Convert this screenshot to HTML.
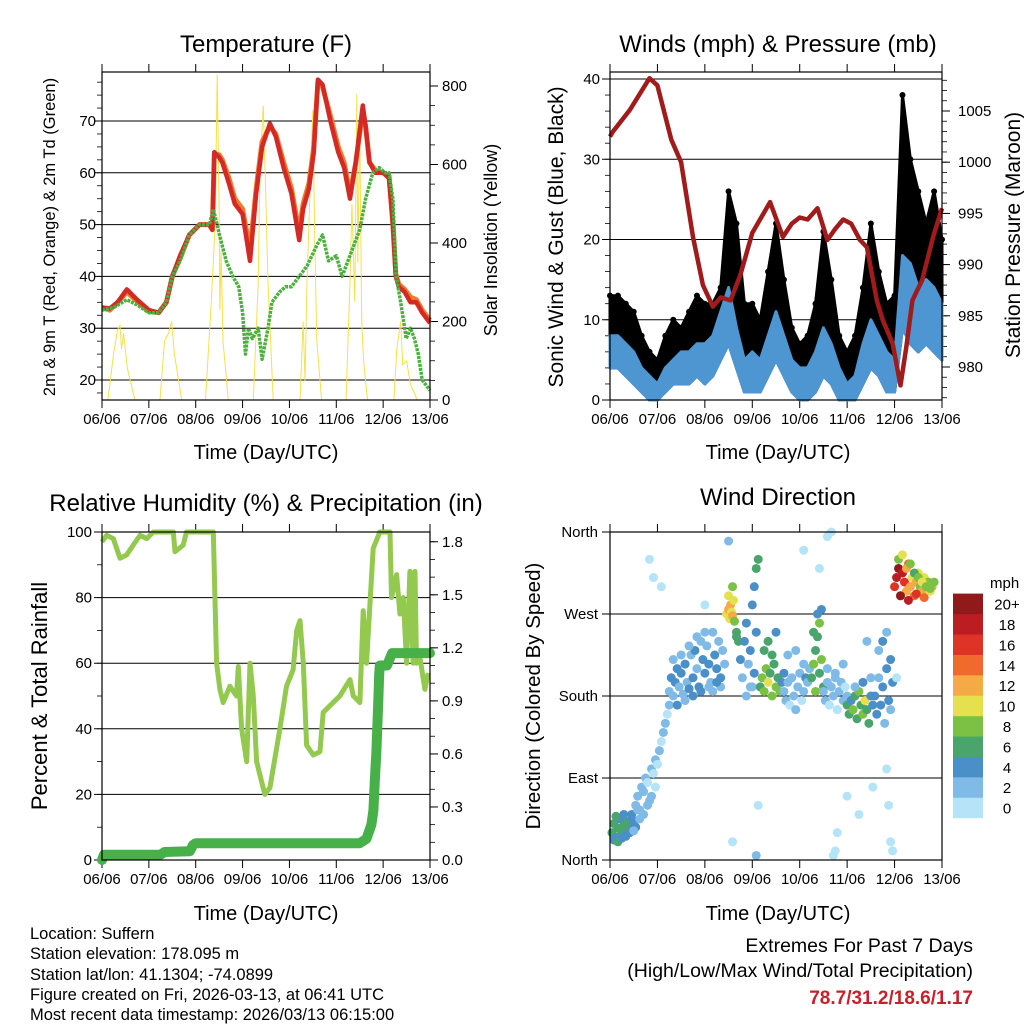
<!DOCTYPE html>
<html><head><meta charset="utf-8"><style>
html,body{margin:0;padding:0;background:#fff;}
svg{display:block;font-family:"Liberation Sans",Arial,sans-serif;}
</style></head><body>
<svg id="chart" width="1024" height="1024" viewBox="0 0 1024 1024" xmlns="http://www.w3.org/2000/svg">
<rect width="1024" height="1024" fill="#fff"/>
<g id="layer"></g>
<text x="266" y="52" font-size="24" text-anchor="middle">Temperature (F)</text>
<text x="778" y="52" font-size="24" text-anchor="middle">Winds (mph) &amp; Pressure (mb)</text>
<text x="266" y="511" font-size="24" text-anchor="middle">Relative Humidity (%) &amp; Precipitation (in)</text>
<text x="778" y="505" font-size="24" text-anchor="middle">Wind Direction</text>
<text x="266" y="459" font-size="20" text-anchor="middle">Time (Day/UTC)</text>
<text x="778" y="459" font-size="20" text-anchor="middle">Time (Day/UTC)</text>
<text x="266" y="920" font-size="20" text-anchor="middle">Time (Day/UTC)</text>
<text x="778" y="920" font-size="20" text-anchor="middle">Time (Day/UTC)</text>
<text transform="translate(55,237) rotate(-90)" font-size="16.5" text-anchor="middle">2m &amp; 9m T (Red, Orange) &amp; 2m Td (Green)</text>
<text transform="translate(497,240) rotate(-90)" font-size="18" text-anchor="middle">Solar Insolation (Yellow)</text>
<text transform="translate(563,237) rotate(-90)" font-size="21" text-anchor="middle">Sonic Wind &amp; Gust (Blue, Black)</text>
<text transform="translate(1020,235) rotate(-90)" font-size="21" text-anchor="middle">Station Pressure (Maroon)</text>
<text transform="translate(47,696) rotate(-90)" font-size="22" text-anchor="middle">Percent &amp; Total Rainfall</text>
<text transform="translate(540,696) rotate(-90)" font-size="20.5" text-anchor="middle">Direction (Colored By Speed)</text>
<g font-size="16.5">
<text x="30" y="939">Location: Suffern</text>
<text x="30" y="959">Station elevation: 178.095 m</text>
<text x="30" y="980">Station lat/lon: 41.1304; -74.0899</text>
<text x="30" y="1000">Figure created on Fri, 2026-03-13, at 06:41 UTC</text>
<text x="30" y="1020">Most recent data timestamp: 2026/03/13 06:15:00</text>
</g>
<text x="973" y="952" font-size="19.5" text-anchor="end">Extremes For Past 7 Days</text>
<text x="973" y="977" font-size="19.5" text-anchor="end">(High/Low/Max Wind/Total Precipitation)</text>
<text x="973" y="1004" font-size="19" font-weight="bold" fill="#c8202a" text-anchor="end">78.7/31.2/18.6/1.17</text>
</svg>
<script>
// ---------- DATA ----------
const dayLabels = ["06/06","07/06","08/06","09/06","10/06","11/06","12/06","13/06"];
const tempTicks = [20,30,40,50,60,70];
const solarTicks = [0,200,400,600,800];
const windTicks = [0,10,20,30,40];
const pressTicks = [980,985,990,995,1000,1005];
const rhTicks = [0,20,40,60,80,100];
const precipTicks = ["0.0","0.3","0.6","0.9","1.2","1.5","1.8"];
const dirTickLabels = ["North","East","South","West","North"];
const speedLabels = ["0","2","4","6","8","10","12","14","16","18","20+"];

const tempHours = [0,4,8,12.7,18,24,29,33,36,40,44.7,50,55,56.5,57.5,60,61.6,65,68,72,75.8,79,82,86,89,93,97,101,103,106,108.5,110.6,113,117,121,124,127,130,133.6,135,137,140,144,147,149,150.5,152,155,158,161,164,168];
const tempRed = [34,33.8,35,37.5,35.5,33.5,33,35,40,44,48,50,50,49,64,63,62,58,54,52,43,56,65,69.5,67,61,56,47,53,57,64,78,77,70,64,61,55,62,73,69,62,60,60,59,50,40,38,37,35,35,33,31];
const tempOrange = [34,33.5,35,37,35.2,33.2,33,35,40,43.5,48,50,50,49,63.5,63.5,62.5,59,55,53,45,57,66,69,67.5,62,57,48.5,54,58,65,77.5,76.5,71,65,62,56,62,72,69,62,60.5,60,59.5,50,40.5,38.5,37.5,36,35.5,33.5,31.5];
const dewHours = [0,6,12.7,18,24,29,33,36,40,44.7,50,55,57,60.2,63.6,67,70,72,73.5,75,77,80,82,85,87,91,94,97,101,105,110,113,116,120,123,128,132,135,138.7,142,145,147,149,150.7,153,155.8,158,160,162,164,168];
const dewGreen = [33.5,34,35.5,34.5,33,33,35,40,43,48,50,50,53,48,43,40,38,33,25,30,28,30,24,30,35,37,38,38,40,42,46,48,43,44,40,45,49,55,60,61,60,60,55,40,35,28,30,28,25,20,18];
const solarHours = [3,6,8,9.2,10,11,13,16.9, 29.7,32,34,35.7,37,40.8, 53,56,58,59,60,60.4,61,62,64.7, 77.5,80,81,82.6,84,85,87.7, 101.4,103,104,105,107,108,109,110,112.5, 125,127,128,129.5,130.5,131,132,133,134,136, 149.5,151,153,154,156,158,161.5];
const solarVals = [0,120,180,190,130,170,80,0, 0,150,170,200,120,0, 0,250,450,830,500,230,380,150,0, 0,300,600,750,500,300,0, 0,200,50,300,600,740,400,150,0, 0,300,500,250,780,350,700,200,100,0, 0,130,200,90,100,40,0];

const gustHours = [0,4,8,12,16,20,24,28,32,36,40,44,48,52,56,60,64,68,72,76,80,84,88,92,96,100,104,108,112,116,120,124,128,132,136,140,144,148,152,156,160,164,168];
const gustHi = [13,13,12,11,8,6,5,8,10,9,11,13,12,12,14,26,22,12,12,10,16,22,15,9,7,8,12,21,15,8,6,8,14,22,16,12,13,38,30,26,22,26,20];
const windHi = [8,8,7,6,4,3,2,4,5,6,6,7,7,8,11,14,9,5,6,5,8,11,8,5,4,4,6,9,7,4,2,3,7,10,8,6,5,18,17,14,15,14,12];
const windLo = [4,4,3,2,1,0,0,1,2,2,2,3,2,3,5,7,4,1,1,1,3,5,3,1,0,0,1,3,2,0,0,0,2,4,3,1,1,9,7,6,7,6,5];
const pressHours = [0,1.5,10,20,24,31,36,42,47,52,56,61,66,72,81,87.5,92,96,100,105,110,114,118,122,126.5,130,135,138,143,147,150,153,158,163.5,168];
const pressVals = [1002.5,1003,1005.1,1008.2,1007.5,1002.2,1000,992.7,988,985.9,986.8,986.5,989,993.1,996.1,992.7,994,994.6,994.4,995.5,992.4,993.5,994.4,994,992.4,991.7,986.5,984.6,982.3,978.2,982,986.5,988.5,992.7,995.5];

const rhHours = [0,2.4,5.8,9.2,12.6,16,19.5,22.9,26.3,36.5,37.4,39.5,41.6,43.3,57,58.7,60.4,62.1,65.5,68.9,69.8,71.5,74.1,75.8,77.5,79.2,83.4,86,91.1,94.5,97.9,99.7,101.4,103.1,104.8,108.2,111.6,113.3,116.7,121.8,127,128.7,132.1,133.8,135.5,138.9,142.3,147.5,148.3,150.9,152.6,154.3,156,157.7,159.4,160.3,161.1,162.8,165.4,167.1];
const rhVals = [97,99,98,92,93,96,99,98,100,100,94,95,96,100,100,60,52,48,53,50,59,40,30,60,50,30,20,22,40,53,58,70,73,60,35,32,33,45,47,50,55,50,48,76,60,95,100,100,80,87,75,80,60,88,60,88,60,62,52,57];
const precipHours = [0,1,30,32,45,46.6,48,132,135.5,138,139,139.5,140,140.5,141,141.5,142,142.3,146,148.6,168];
const precipVals = [0,0.03,0.03,0.045,0.05,0.085,0.095,0.095,0.12,0.2,0.28,0.4,0.5,0.6,0.75,0.9,1.05,1.1,1.1,1.17,1.17];

const dirHours = [1,2,3,4,5,6,7,8,9,10,11,12,13,14,2,4,6,8,10,12,3,7,11,
13,14,15,16,17,18,19,20,21,22,23,24,25,26,27,28,29,30,15,17,19,21,23,
30,31,32,33,34,35,36,37,38,39,40,41,42,43,44,45,46,47,48,49,50,51,52,53,54,55,56,57,58,32,36,40,44,48,52,56,34,38,42,46,50,54,
59,60,60.5,61,61.5,62,62.5,63,64,65,60,62,64,
66,67,68,69,70,71,72,73,74,72,73,74,75,69,71,
76,77,78,79,80,81,82,83,84,85,86,87,88,78,80,82,84,
88,89,90,91,92,93,94,95,96,97,98,99,100,101,90,94,98,
102,103,104,105,106,107,108,103,105,107,104,106,
108,109,110,111,112,113,114,115,116,117,118,119,120,110,114,118,
120,121,122,123,124,125,126,127,128,129,130,131,132,133,124,128,132,
134,135,136,137,138,139,140,141,142,143,136,138,140,142,
144,145,146,147,148,149,150,151,152,153,154,155,156,157,158,159,160,161,162,163,164,146,148,150,152,154,156,158,160,162,147,151,155,159,
20,22,26,48,60,62,74,98,106,110,112,113,114,115,130,133,140,141,142,143,145,75,120,126];
const dirDeg = [30,40,25,35,45,30,38,28,42,33,50,40,36,55,22,20,24,26,30,32,48,50,45,
60,70,55,80,75,90,85,65,100,95,110,105,120,130,140,150,160,170,45,50,60,70,80,
185,200,180,195,210,190,205,182,215,195,188,225,200,230,210,190,240,220,205,235,215,195,250,225,210,240,200,230,215,220,225,235,245,250,185,190,170,175,180,185,190,195,
270,275,265,280,272,268,285,262,250,240,290,300,245,
220,200,240,260,215,230,190,205,250,280,300,320,330,180,190,
190,200,185,210,195,205,180,215,190,200,185,195,205,230,240,225,250,
185,175,195,170,200,180,165,190,205,175,185,200,195,210,225,230,215,
200,215,230,245,260,220,190,250,270,275,185,205,
185,175,195,170,190,180,200,165,185,195,175,190,180,210,205,215,
170,160,175,165,180,155,185,170,160,175,165,150,180,170,190,195,200,
180,160,200,170,190,150,210,175,165,195,230,240,250,220,
300,310,320,290,315,305,295,325,300,310,290,305,315,300,295,310,300,305,295,300,305,330,335,320,325,315,310,305,300,298,290,285,292,288,
330,310,300,280,350,20,5,340,320,355,360,5,10,30,240,80,100,60,20,10,200,60,70,50];
const dirSpeed = [6,7,5,6,4,7,6,5,7,6,4,5,4,3,4,6,4,5,4,3,7,5,4,
2,3,2,2,3,2,1,2,2,1,2,1,2,1,2,2,1,2,3,2,3,2,1,
3,4,3,5,4,3,5,2,4,3,5,3,4,5,3,4,3,5,4,3,4,2,3,5,4,3,4,3,2,2,2,2,3,2,2,3,4,3,4,5,3,4,
11,12,10,13,10,12,11,9,7,6,10,8,7,
4,3,4,5,3,4,3,4,5,4,5,6,7,3,2,
7,8,9,8,10,7,8,6,9,7,8,5,4,6,7,6,5,
3,2,3,1,2,3,2,3,2,1,3,4,2,3,2,3,2,
7,8,7,6,8,9,7,6,5,4,8,7,
2,3,2,1,2,3,2,1,2,3,2,1,2,3,2,3,
6,7,5,8,6,7,9,6,8,10,7,6,5,4,3,4,3,
4,5,3,4,5,3,4,5,3,4,3,4,3,4,
16,18,20,14,19,17,12,15,13,11,14,12,10,9,13,11,12,8,10,12,9,8,10,12,9,7,8,10,9,8,20,18,17,15,
0,0,1,1,2,1,3,1,0,0,0,0,0,0,2,1,1,0,0,0,0,0,1,0];
const speedColors = ["#b5e3f7","#7fbbe6","#4a8fc8","#4aa56c","#7bc143","#e6e04e","#f6aa45","#ef6a2c","#dd3427","#bc1d22","#901a1a"];

// ---------- SCALES ----------
const NS = "http://www.w3.org/2000/svg";
const layer = document.getElementById("layer");
function mk(tag, attrs, parent){const e=document.createElementNS(NS,tag);for(const k in attrs)e.setAttribute(k,attrs[k]);(parent||layer).appendChild(e);return e;}
const P1={x0:102,x1:430,y0:72,y1:400}, P2={x0:610,x1:942,y0:72,y1:400}, P3={x0:102,x1:430,y0:532,y1:860}, P4={x0:610,x1:942,y0:532,y1:860};
function xS(P,h){return P.x0+(P.x1-P.x0)*h/168;}
const yTemp=v=>400-(v-16.14)*5.18;
const ySolar=v=>400-v*0.3925;
const yWind=v=>400-v*8.025;
const yPress=v=>367-(v-980)*10.24;
const yRH=v=>860-v*3.28;
const yPrecip=v=>860-v*176.8;
const yDir=v=>860-v*0.9111;
function pathFrom(P,hs,vs,yf){return hs.map((h,i)=>(i?"L":"M")+xS(P,h).toFixed(1)+","+yf(vs[i]).toFixed(1)).join("");}

// ---------- GRID & AXES ----------
function frame(P,name){
  for(let d=0;d<=7;d++){
    const x=xS(P,d*24);
    const t=mk("line",{x1:x,x2:x,y1:P.y1,y2:P.y1+8,stroke:"#000","stroke-width":1});
    
    
    const t2=mk("line",{x1:x,x2:x,y1:P.y0,y2:P.y0-8,stroke:"#000","stroke-width":1});
    
    
    const l=mk("text",{x:x,y:P.y1+24,"font-size":15,"text-anchor":"middle"});
    l.textContent=dayLabels[d];
    
    
  }
}
function hgrid(P,yf,vals,labels,side,name,lx){
  vals.forEach((v,i)=>{
    const y=yf(v);
    if(side==="left"){
      const g=mk("line",{x1:P.x0-8,x2:P.x1,y1:y,y2:y,stroke:"#000","stroke-width":1});
      
      
    } else {
      const g=mk("line",{x1:P.x1,x2:P.x1+8,y1:y,y2:y,stroke:"#000","stroke-width":1});
      
      
    }
    const t=mk("text",{x:lx,y:y+5,"font-size":15,"text-anchor":side==="left"?"end":"start"});
    t.textContent=labels[i];
    
    
  });
}
function minor(P,yf,from,to,step,side){
  for(let v=from;v<=to+1e-9;v+=step){
    const y=yf(v); if(y<P.y0-0.5||y>P.y1+0.5) continue;
    const x=side==="left"?P.x0:P.x1, dx=side==="left"?-5:5;
    const m=mk("line",{x1:x,x2:x+dx,y1:y,y2:y,stroke:"#000","stroke-width":0.8});
    
    
  }
}
function border(P,name){
  const r=mk("rect",{x:P.x0,y:P.y0,width:P.x1-P.x0,height:P.y1-P.y0,fill:"none",stroke:"#000","stroke-width":1.2});
  
  
}

// Panel 1
frame(P1,"temp");
hgrid(P1,yTemp,tempTicks,tempTicks,"left","temp-y",96);
hgrid(P1,ySolar,solarTicks,solarTicks,"right","solar-y",442);
minor(P1,yTemp,17.5,80,2.5,"left"); minor(P1,ySolar,0,840,50,"right");
const solarLine=mk("path",{d:pathFrom(P1,solarHours,solarVals,ySolar),fill:"none",stroke:"#f6e04a","stroke-width":1});


const orangeLine=mk("path",{d:pathFrom(P1,tempHours,tempOrange,yTemp),fill:"none",stroke:"#f07a2a","stroke-width":5,"stroke-linejoin":"round"});


const redLine=mk("path",{d:pathFrom(P1,tempHours,tempRed,yTemp),fill:"none",stroke:"#d42a26","stroke-width":4.5,"stroke-linejoin":"round"});


const dewLine=mk("path",{d:pathFrom(P1,dewHours,dewGreen,yTemp),fill:"none",stroke:"#4bb040","stroke-width":3.5,"stroke-dasharray":"3 1","stroke-linejoin":"round"});


border(P1,"temp");

// Panel 2
frame(P2,"winds");
hgrid(P2,yWind,windTicks,windTicks,"left","wind-y",600);
hgrid(P2,yPress,pressTicks,pressTicks,"right","pressure-y",958);
minor(P2,yWind,0,40,2,"left"); minor(P2,yPress,977,1008,1,"right");
const gustBand=mk("path",{d:pathFrom(P2,gustHours,gustHi,yWind)+pathFrom(P2,gustHours.slice().reverse(),windLo.slice().reverse(),yWind).replace("M","L")+"Z",fill:"#000",stroke:"#000","stroke-width":3,"stroke-linejoin":"round"});


const windBand=mk("path",{d:pathFrom(P2,gustHours,windHi,yWind)+pathFrom(P2,gustHours.slice().reverse(),windLo.slice().reverse(),yWind).replace("M","L")+"Z",fill:"#4d96d2",stroke:"#4d96d2","stroke-width":3,"stroke-linejoin":"round"});


gustHours.forEach((h,i)=>{
  const c=mk("circle",{cx:xS(P2,h),cy:yWind(gustHi[i]),r:3,fill:"#000"});
  
  
});
const pressLine=mk("path",{d:pathFrom(P2,pressHours,pressVals,yPress),fill:"none",stroke:"#a01c1c","stroke-width":4.5,"stroke-linejoin":"round"});


border(P2,"winds");

// Panel 3
frame(P3,"rh");
hgrid(P3,yRH,rhTicks,rhTicks,"left","rh-y",92);
hgrid(P3,yPrecip,[0,0.3,0.6,0.9,1.2,1.5,1.8],precipTicks,"right","precip-y",442);
minor(P3,yRH,0,100,10,"left"); minor(P3,yPrecip,0,1.8,0.1,"right");
const rhLine=mk("path",{d:pathFrom(P3,rhHours,rhVals,yRH),fill:"none",stroke:"#93c94e","stroke-width":5,"stroke-linejoin":"round"});


const prLine=mk("path",{d:pathFrom(P3,precipHours,precipVals,yPrecip),fill:"none",stroke:"#47b049","stroke-width":10,"stroke-linejoin":"round","stroke-linecap":"round"});


border(P3,"rh");

// Panel 4
frame(P4,"dir");
hgrid(P4,yDir,[0,90,180,270,360],dirTickLabels,"left","dir-y",598);
dirHours.forEach((h,i)=>{
  const bin=Math.min(10,Math.floor(dirSpeed[i]/2));
  const c=mk("circle",{cx:xS(P4,h),cy:yDir(dirDeg[i]),r:4.5,fill:speedColors[bin]});
  
  
});
border(P4,"dir");

// Colorbar
const cbTitle=mk("text",{x:990,y:588,"font-size":15});
cbTitle.textContent="mph";


speedLabels.forEach((s,i)=>{
  const y=818-(i+1)*20.4;
  const r=mk("rect",{x:953,y:y,width:30,height:20.6,fill:speedColors[i]});
  
  
  const t=mk("text",{x:1007,y:y+16,"font-size":15,"text-anchor":"middle"});
  t.textContent=s;
  
  
});
</script>
</body></html>
